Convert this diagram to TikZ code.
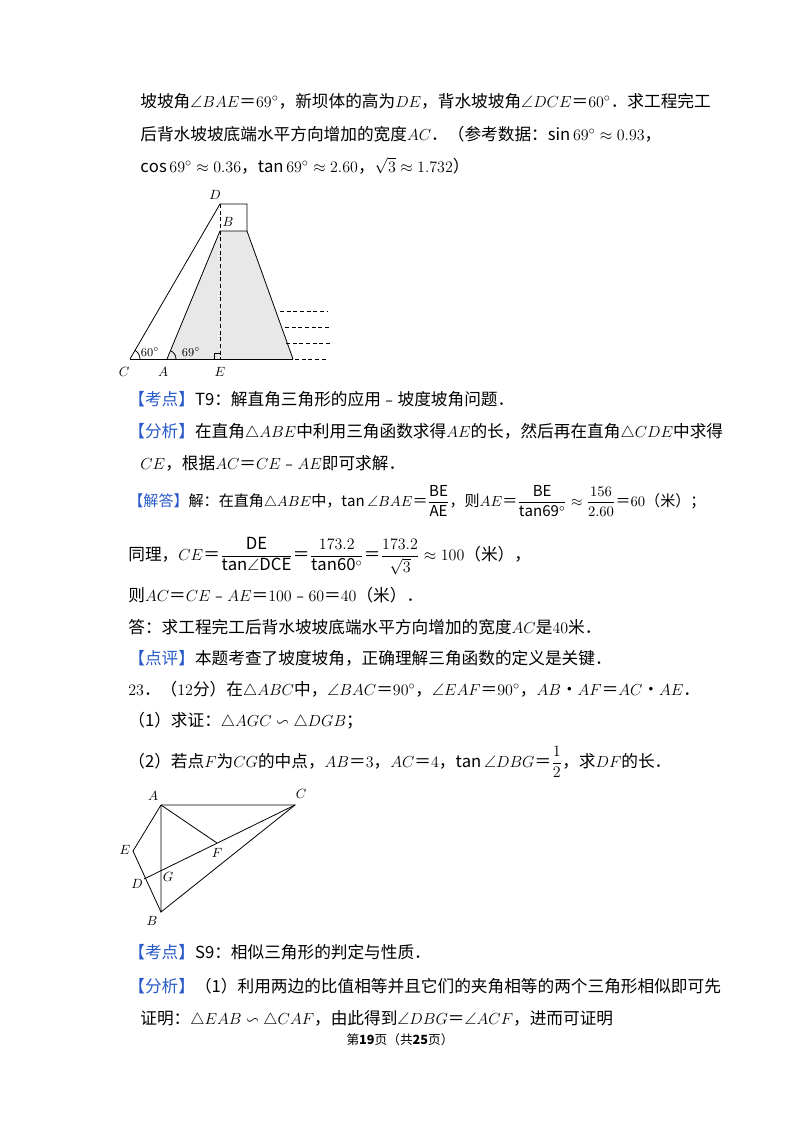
\documentclass[tikz,border=0pt]{standalone}
\usepackage{amsmath,amssymb}
\usepackage{fontspec}
\setmainfont{Noto Sans CJK SC}
\usetikzlibrary{calc}
\definecolor{headblue}{RGB}{40,90,200}
\newcommand{\hd}[1]{{\color{headblue}【#1】}}
\begin{document}
\begin{tikzpicture}[
	x=0.75pt,y=-0.75pt,
	line width=0.6pt,
	every node/.style={inner sep=0pt,font=\fontsize{12.5}{15}\selectfont},
	txt/.style={anchor=base west},
	lab/.style={font=\fontsize{10}{12}\selectfont},
	water/.style={dashed,dash pattern=on 3pt off 2pt}
]
\useasboundingbox (0,0) rectangle (800,1132);

% text above first figure
\node[txt] (l1) at (140,107) {坡坡角$\angle BAE$＝$69^\circ$，新坝体的高为$DE$，背水坡坡角$\angle DCE$＝$60^\circ$．求工程完工};
\node[txt] (l2) at (140,140) {后背水坡坡底端水平方向增加的宽度$AC$．（参考数据：$\sin69^\circ\approx0.93$，};
\node[txt] (l3) at (140,172) {$\cos69^\circ\approx0.36$，$\tan69^\circ\approx2.60$，$\sqrt{3}\approx1.732$）};

% dam figure
\coordinate (C) at (130,359);
\coordinate (A) at (167,359);
\coordinate (E) at (220,359);
\coordinate (R) at (293,359);
\coordinate (B) at (220,231);
\coordinate (Bt) at (247,231);
\coordinate (D) at (220,204);
\coordinate (Dt) at (247,204);
\fill[gray!18] (A) -- (B) -- (Bt) -- (R) -- cycle;
\draw (C) -- (R);
\draw (A) -- (B) -- (Bt) -- (R);
\draw (C) -- (D) -- (Dt) -- (Bt);
\draw[water] (D) -- (E);
\draw (E) ++(-6,0) -- ++(0,-6) -- ++(6,0);
\draw (C) ++(10,0) arc[start angle=0,end angle=-60,radius=10];
\draw (A) ++(9,0) arc[start angle=0,end angle=-69,radius=9];
\draw[water] (280,311) -- (327,311);
\draw[water] (285,327) -- (330,327);
\draw[water] (286,343) -- (331,343);
\draw[water] (295,359) -- (328,359);
\node[lab] (lD) at (215,195) {$D$};
\node[lab] (lB) at (228,222) {$B$};
\node[lab] (lC) at (124,372) {$C$};
\node[lab] (lA) at (163,372) {$A$};
\node[lab] (lE) at (220,372) {$E$};
\node[font=\fontsize{9}{11}\selectfont] (a60) at (150,352) {$60^\circ$};
\node[font=\fontsize{9}{11}\selectfont] (a69) at (191,352) {$69^\circ$};

% solution text
\node[txt] (k1) at (128,405) {\hd{考点}$\mathrm{T9}$：解直角三角形的应用﹣坡度坡角问题．};
\node[txt] (f1) at (128,437) {\hd{分析}在直角$\triangle ABE$中利用三角函数求得$AE$的长，然后再在直角$\triangle CDE$中求得};
\node[txt] (f2) at (140,469) {$CE$，根据$AC$＝$CE$﹣$AE$即可求解．};
\node[txt,font=\fontsize{11.3}{14}\selectfont] (j1) at (128,506) {\hd{解答}解：在直角$\triangle ABE$中，$\tan\angle BAE$＝$\dfrac{\mathrm{BE}}{\mathrm{AE}}$，则$AE$＝$\dfrac{\mathrm{BE}}{\mathrm{tan69^\circ}}\approx\dfrac{156}{2.60}$＝$60$（米）；};
\node[txt] (j2) at (128,560) {同理，$CE$＝$\dfrac{\mathrm{DE}}{\mathrm{tan}\angle\mathrm{DCE}}$＝$\dfrac{173.2}{\mathrm{tan60^\circ}}$＝$\dfrac{173.2}{\sqrt{3}}\approx100$（米），};
\node[txt] (j3) at (128,601) {则$AC$＝$CE$﹣$AE$＝$100$﹣$60$＝$40$（米）．};
\node[txt] (j4) at (128,633) {答：求工程完工后背水坡坡底端水平方向增加的宽度$AC$是$40$米．};
\node[txt] (d1) at (128,664) {\hd{点评}本题考查了坡度坡角，正确理解三角函数的定义是关键．};
\node[txt] (q1) at (128,695) {$23$．（$12$分）在$\triangle ABC$中，$\angle BAC$＝$90^\circ$，$\angle EAF$＝$90^\circ$，$AB$•$AF$＝$AC$•$AE$．};
\node[txt] (q2) at (128,726) {（1）求证：$\triangle AGC\backsim\triangle DGB$；};
\node[txt] (q3) at (128,767) {（2）若点$F$为$CG$的中点，$AB$＝$3$，$AC$＝$4$，$\tan\angle DBG$＝$\dfrac{1}{2}$，求$DF$的长．};

% triangle figure
\coordinate (pA) at (161,805);
\coordinate (pC) at (295,805);
\coordinate (pE) at (133,851);
\coordinate (pF) at (217,843);
\coordinate (pD) at (144,879);
\coordinate (pG) at (161,870);
\coordinate (pB) at (161,912);
\draw (pA) -- (pC) -- (pB) -- (pA);
\draw (pA) -- (pE) -- (pB);
\draw (pA) -- (pF);
\draw (pD) -- (pC);
\node[lab] (tA) at (153,796) {$A$};
\node[lab] (tC) at (301,794) {$C$};
\node[lab] (tE) at (125,850) {$E$};
\node[lab] (tF) at (217,853) {$F$};
\node[lab] (tD) at (137,884) {$D$};
\node[lab] (tG) at (168,877) {$G$};
\node[lab] (tB) at (152,921) {$B$};

% analysis text
\node[txt] (k2) at (128,958) {\hd{考点}$\mathrm{S9}$：相似三角形的判定与性质．};
\node[txt] (f3) at (128,992) {\hd{分析}（1）利用两边的比值相等并且它们的夹角相等的两个三角形相似即可先};
\node[txt] (f4) at (140,1024) {证明：$\triangle EAB\backsim\triangle CAF$，由此得到$\angle DBG$＝$\angle ACF$，进而可证明};
\node[font=\fontsize{9.5}{11}\selectfont] (pg) at (400,1040) {第\textbf{19}页（共\textbf{25}页）};
\end{tikzpicture}
\end{document}
